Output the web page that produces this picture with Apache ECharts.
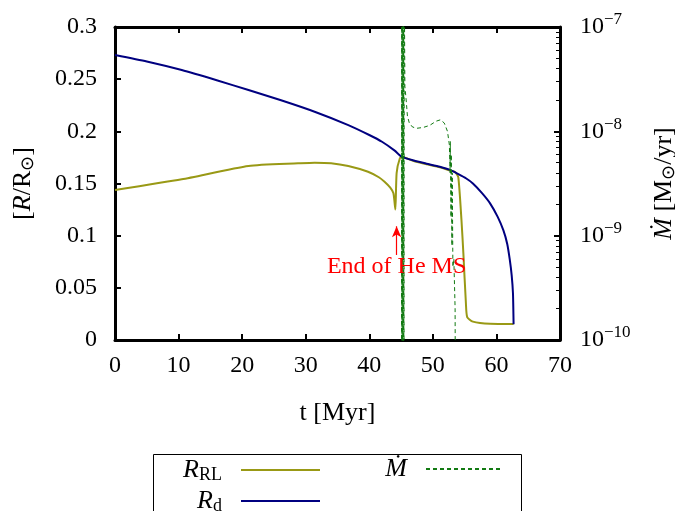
<!DOCTYPE html>
<html>
<head>
<meta charset="utf-8">
<script src="https://cdn.jsdelivr.net/npm/echarts@6/dist/echarts.min.js"></script>
<style>
html, body { margin: 0; padding: 0; background: #fff; }
#chart { width: 675px; height: 511px; }
</style>
</head>
<body>
<div id="chart"></div>
<script>
// R_d (donor radius) vs time
var tRd = [0, 5, 10.5, 16, 21, 26, 31.4, 36.7, 40, 42, 44, 45.1, 47, 49, 51.1, 52.7, 54, 55.2, 56.3, 57.7, 59, 60.2, 61.1, 61.7, 62.1, 62.4, 62.6, 62.7];
var rd  = [0.2732, 0.267, 0.2588, 0.249, 0.2396, 0.230, 0.2188, 0.206, 0.1965, 0.190, 0.1815, 0.1757, 0.172, 0.169, 0.166, 0.163, 0.159, 0.155, 0.150, 0.141, 0.131, 0.118, 0.105, 0.092, 0.077, 0.062, 0.045, 0.015];

// R_RL (Roche lobe radius) vs time
var tRl = [0, 10.5, 21, 28.8, 31.4, 34, 36.7, 39.8, 41.5, 42.4, 43.3, 43.8, 44.1, 44.3, 44.8, 45.2, 47, 49, 51.1, 52.7, 53.5, 54, 54.5, 54.8, 55.2, 55.4, 56.3, 59, 62.7];
var rl  = [0.1438, 0.154, 0.1668, 0.1693, 0.170, 0.1695, 0.1668, 0.1613, 0.156, 0.1517, 0.146, 0.1406, 0.125, 0.160, 0.174, 0.1755, 0.1715, 0.1685, 0.1655, 0.1625, 0.161, 0.156, 0.115, 0.083, 0.035, 0.022, 0.0176, 0.0155, 0.0153];

// mass transfer rate vs time
var tMdot = [45.05, 45.1, 45.15, 45.2, 45.25, 45.3, 45.35, 45.4, 45.45, 45.5, 45.6, 45.8, 46.0, 46.3, 46.8, 47.5, 48.5, 49.5, 50.5, 51.2, 51.8, 52.3, 52.6, 52.7, 52.75, 52.85, 52.9, 53.0, 53.05, 53.15, 53.3, 53.5, 53.6];
var mdot  = [1e-12, 3e-7, 1e-12, 3e-7, 1e-12, 3e-7, 1e-12, 3e-7, 1e-12, 3e-7, 2.7e-8, 2.0e-8, 1.4e-8, 1.2e-8, 1.1e-8, 1.07e-8, 1.09e-8, 1.14e-8, 1.25e-8, 1.29e-8, 1.2e-8, 1.0e-8, 7.4e-9, 4e-9, 8e-9, 1.5e-9, 6e-9, 8e-10, 4e-9, 5e-10, 6e-10, 2e-10, 1e-12];

// tick labels
var xTicks = [0, 10, 20, 30, 40, 50, 60, 70];
var rTicks = [0, 0.05, 0.1, 0.15, 0.2, 0.25, 0.3];

// annotation
var noteT = 44.3;
var noteFrom = 0.0815;
var noteTo = 0.109;
var noteText = 'End of He MS';

function zip(a, b) {
    return a.map(function (v, i) { return [v, b[i]]; });
}

var font = 'Liberation Serif';
var frame = { show: true, onZero: false, lineStyle: { color: '#000', width: 3 } };
var ticks = { show: true, inside: true, length: 6, lineStyle: { color: '#000', width: 2 } };

var chart = echarts.init(document.getElementById('chart'));

var option = {
    backgroundColor: '#fff',
    animation: false,
    textStyle: { fontFamily: font },
    grid: { left: 115, right: 115, top: 27, bottom: 171, outerBoundsMode: 'none', containLabel: false },
    legend: [
        {
            data: ['R_RL', 'R_d'],
            orient: 'vertical',
            left: 160, top: 456, height: 60,
            padding: 0,
            align: 'right',
            itemWidth: 79, itemHeight: 14, itemGap: 3,
            itemStyle: { opacity: 0 },
            formatter: function (n) {
                return n === 'R_RL' ? '{i|R}{s|RL}' : '{i|R}{s|d}';
            },
            textStyle: {
                width: 62, align: 'right', padding: [0, 14, 0, 0], lineHeight: 26,
                rich: {
                    i: { fontFamily: font, fontStyle: 'italic', fontSize: 26, color: '#000', lineHeight: 26 },
                    s: { fontFamily: font, fontSize: 18, color: '#000', padding: [10, 0, 0, 0], lineHeight: 26 }
                }
            }
        },
        {
            data: ['Mdot'],
            orient: 'vertical',
            left: 375, top: 456,
            padding: 0,
            align: 'right',
            itemWidth: 77, itemHeight: 14,
            itemStyle: { opacity: 0 },
            formatter: function () { return '{i|Ṁ}'; },
            textStyle: {
                width: 32, align: 'right', padding: [0, 14, 0, 0], lineHeight: 26,
                rich: {
                    i: { fontFamily: font, fontStyle: 'italic', fontSize: 26, color: '#000', lineHeight: 26 }
                }
            }
        }
    ],
    graphic: [
        {
            type: 'rect',
            shape: { x: 153.5, y: 454.5, width: 368, height: 80 },
            style: { fill: 'none', stroke: '#000', lineWidth: 1 }
        }
    ],
    xAxis: [
        {
            type: 'value', min: 0, max: 70, interval: 10, position: 'bottom',
            axisLine: frame, axisTick: ticks, splitLine: { show: false },
            axisLabel: {
                fontSize: 24, color: '#000', margin: 14, fontFamily: font,
                formatter: function (v) { return xTicks.indexOf(v) >= 0 ? String(v) : ''; }
            },
            name: 't [Myr]', nameLocation: 'middle', nameGap: 60,
            nameTextStyle: { fontSize: 26, color: '#000', fontFamily: font }
        },
        {
            type: 'value', min: 0, max: 70, interval: 10, position: 'top',
            axisLine: frame, axisTick: ticks, splitLine: { show: false },
            axisLabel: { show: false }
        }
    ],
    yAxis: [
        {
            type: 'value', min: 0, max: 0.3, interval: 0.05, position: 'left',
            axisLine: frame, axisTick: ticks, splitLine: { show: false },
            axisLabel: {
                fontSize: 24, color: '#000', margin: 18, fontFamily: font,
                formatter: function (v) {
                    var r = Math.round(v * 100) / 100;
                    return rTicks.indexOf(r) >= 0 ? String(r) : '';
                }
            },
            name: '[{i|R}/R{s|⊙}]', nameLocation: 'middle', nameRotate: 90, nameGap: 78,
            nameTextStyle: {
                fontSize: 26, color: '#000', fontFamily: font,
                rich: {
                    i: { fontFamily: font, fontStyle: 'italic', fontSize: 26, color: '#000' },
                    s: { fontFamily: font, fontSize: 18, color: '#000', padding: [10, 0, 0, 0] }
                }
            }
        },
        {
            type: 'log', logBase: 10, min: 1e-10, max: 1e-7, position: 'right',
            axisLine: frame, axisTick: ticks,
            minorTick: { show: true, splitNumber: 9, length: 4, lineStyle: { color: '#000', width: 1 } },
            splitLine: { show: false },
            axisLabel: {
                margin: 20, fontFamily: font,
                formatter: function (v) {
                    var e = Math.round(Math.log(v) / Math.LN10);
                    return '{b|10}{e|−' + Math.abs(e) + '}';
                },
                rich: {
                    b: { fontFamily: font, fontSize: 24, color: '#000' },
                    e: { fontFamily: font, fontSize: 17, color: '#000', padding: [0, 0, 14, 0] }
                }
            },
            name: '{i|Ṁ} [M{s|⊙}/yr]', nameLocation: 'middle', nameRotate: 90, nameGap: 90,
            nameTextStyle: {
                fontSize: 26, color: '#000', fontFamily: font,
                rich: {
                    i: { fontFamily: font, fontStyle: 'italic', fontSize: 26, color: '#000' },
                    s: { fontFamily: font, fontSize: 18, color: '#000', padding: [10, 0, 0, 0] }
                }
            }
        }
    ],
    series: [
        {
            name: 'Mdot', type: 'line', xAxisIndex: 0, yAxisIndex: 1,
            data: zip(tMdot, mdot), symbol: 'none', clip: true, z: 3,
            lineStyle: { color: '#127a12', width: 1, type: [4, 3] },
            itemStyle: { color: '#127a12' }
        },
        {
            name: 'R_RL', type: 'line', xAxisIndex: 0, yAxisIndex: 0,
            data: zip(tRl, rl), symbol: 'none', smooth: 0.2, z: 2,
            lineStyle: { color: '#999915', width: 2 },
            itemStyle: { color: '#999915' },
            markLine: {
                silent: true, symbol: ['none', 'arrow'], symbolSize: [7, 11],
                lineStyle: { color: '#ff0000', width: 1.2, type: 'solid' },
                label: {
                    show: true, position: 'start', distance: 0,
                    formatter: noteText, color: '#ff0000', fontSize: 24, fontFamily: font
                },
                data: [[{ coord: [noteT, noteFrom] }, { coord: [noteT, noteTo] }]]
            }
        },
        {
            name: 'R_d', type: 'line', xAxisIndex: 0, yAxisIndex: 0,
            data: zip(tRd, rd), symbol: 'none', smooth: 0.2, z: 2,
            lineStyle: { color: '#000080', width: 2 },
            itemStyle: { color: '#000080' }
        }
    ]
};

chart.setOption(option);
</script>
</body>
</html>
